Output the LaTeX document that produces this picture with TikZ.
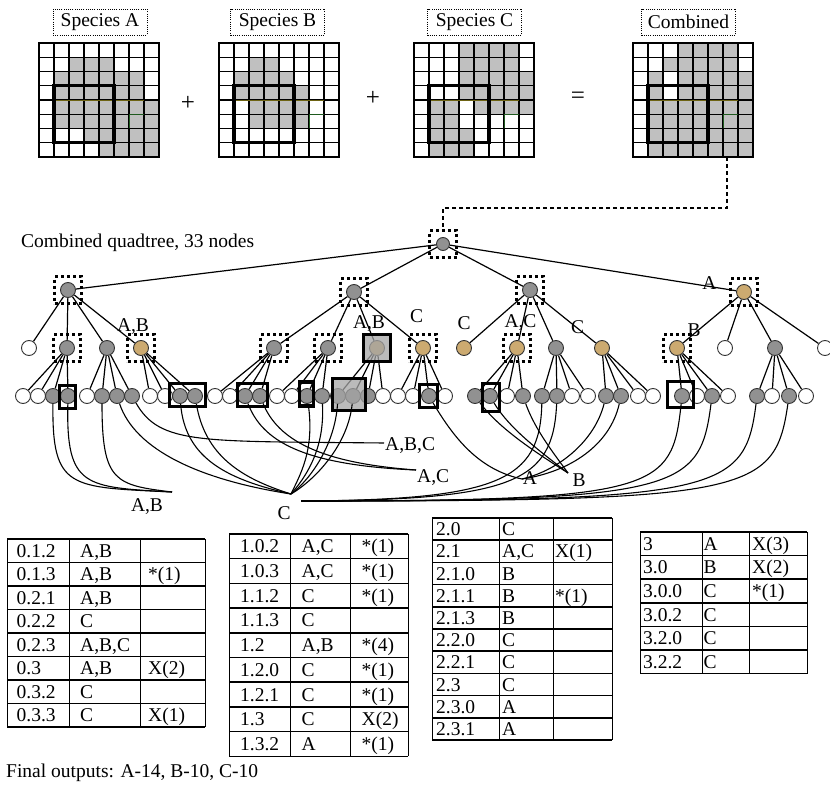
\documentclass[tikz,border=0pt]{standalone}
\usepackage{fontspec}
\setmainfont{Liberation Serif}
\usetikzlibrary{backgrounds}
\definecolor{cellgray}{RGB}{192,192,192}
\definecolor{clrw}{RGB}{255,255,255}
\definecolor{clrg}{RGB}{145,145,145}
\definecolor{clrt}{RGB}{204,170,112}
\definecolor{boxgray}{RGB}{165,165,165}
\definecolor{gridolive}{RGB}{110,100,20}
\definecolor{gridgreen}{RGB}{30,90,30}

% 8x8 occupancy grid: #1 = top-left corner, #2 = row/{gray columns}
\newcommand{\speciesgrid}[2]{%
  \begin{scope}[shift={#1}, x=15pt, y=-14.25pt]
    \foreach \r/\cs in {#2} {\foreach \c in \cs {\fill[cellgray] (\c,\r) rectangle ++(1,1);}}
    \foreach \k in {0,...,8} {\draw[gridln] (\k,0) -- (\k,8); \draw[gridln] (0,\k) -- (8,\k);}
    \draw[gridolive, line width=0.8pt] (1,4) -- (7,4);
    \draw[gridgreen, line width=0.8pt] (6,6) -- (6,5) -- (7,5);
    \draw[line width=3.2pt] (1,3) rectangle (5,7);
  \end{scope}}

\begin{document}
\begin{tikzpicture}[x=1pt, y=-1pt,
  fs/.style={font=\fontsize{19.5}{22}\selectfont},
  lbl/.style={fs, inner sep=0pt},
  bigsym/.style={font=\fontsize{25}{27}\selectfont, inner sep=0pt},
  ttl/.style={fs, draw, line width=0.8pt, dash pattern=on 1pt off 1.2pt,
    minimum width=94pt, minimum height=26pt, inner sep=1pt},
  gridln/.style={line width=1.3pt, line cap=rect},
  edge/.style={line width=1.2pt},
  curve/.style={line width=1.1pt},
  nd/.style={circle, draw=black!80, line width=0.9pt, minimum size=15pt, inner sep=0pt},
  dotbox/.style={draw, line width=3.2pt, dash pattern=on 3pt off 3pt,
    minimum size=27pt, inner sep=0pt},
  thickbox/.style={draw, line width=3.2pt, inner sep=0pt},
  dashconn/.style={line width=1.1pt, dash pattern=on 4pt off 3pt},
  tabh/.style={line width=1.5pt},
  tabv/.style={line width=1pt},
  cell/.style={fs, inner sep=0pt, anchor=base west},
]
\begin{pgfonlayer}{background}
  \fill[white] (0,0) rectangle (830,789);
\end{pgfonlayer}
\useasboundingbox (0,0) rectangle (830,789);

% ---------- species grids ----------
\node[ttl] (sa) at (100,22) {Species A};
\node[ttl] (sb) at (277.5,22) {Species B};
\node[ttl] (sc) at (474.5,22) {Species C};
\node[ttl] (sd) at (688.5,22) {Combined};

\speciesgrid{(39,43)}{1/{2,3,4}, 2/{1,2,3,4,5,6}, 3/{1,2,3,4,5,6}, 4/{1,2,3,4,5,6,7},
  5/{1,2,3,4,5,6,7}, 6/{3,4,5,6,7}, 7/{4,5,6,7}}
\speciesgrid{(219,43)}{1/{2,3}, 2/{1,2,3,4}, 3/{1,2,3,4,5}, 4/{2,3,4,5}, 5/{2,3,4,5}}
\speciesgrid{(414,43)}{0/{3,4,5,6}, 1/{3,4,5,6}, 2/{3,4,5,6,7}, 3/{3,4,5,6,7},
  4/{1,2,4,5,6,7}, 5/{1,2}, 6/{1,2,3}, 7/{1,2,3}}
\speciesgrid{(633,43)}{0/{3,4,5,6}, 1/{2,3,4,5,6}, 2/{1,3,4,5,6,7}, 3/{1,3,4,5,6,7},
  4/{1,2,3,4,5,6,7}, 5/{1,2,3,4,5,6,7}, 6/{1,2,3,4,5,6,7}, 7/{1,2,3,4,5,6,7}}

\node[bigsym] (plus1) at (188,103) {+};
\node[bigsym] (plus2) at (373,98) {+};
\node[bigsym] (eq) at (578,98) {=};

% ---------- quadtree ----------
\node[lbl, anchor=base west] (qt) at (21,247) {Combined quadtree, 33 nodes};

\node[nd, fill=clrg, minimum size=13pt] (root) at (443,244) {};
\foreach \nm/\x/\y/\cl in {n0/68/290/clrg, n1/354/292/clrg, n2/530/290/clrg, n3/744/292/clrt}
  \node[nd, fill=\cl] (\nm) at (\x,\y) {};
\foreach \nm/\x/\cl in {n00/29/clrw, n01/67/clrg, n02/107/clrg, n03/141/clrt,
  n10/274/clrg, n11/328/clrg, n12/377/clrt, n13/423/clrt,
  n20/464/clrt, n21/517/clrt, n22/556/clrg, n23/602/clrt,
  n30/677/clrt, n31/725/clrw, n32/775/clrg, n33/825/clrw}
  \node[nd, fill=\cl] (\nm) at (\x,348) {};
\foreach \nm/\x/\cl in {n010/23/clrw, n011/38/clrw, n012/53/clrg, n013/68/clrg,
  n020/87/clrw, n021/102/clrg, n022/117/clrg, n023/132/clrg,
  n030/150/clrw, n031/165/clrw, n032/180/clrg, n033/195/clrg,
  n100/215/clrw, n101/230/clrw, n102/245/clrg, n103/260/clrg,
  n110/277/clrw, n111/292/clrw, n112/307/clrg, n113/322/clrg,
  n120/338/clrg, n121/353/clrg, n122/368/clrg, n123/383/clrw,
  n130/398/clrw, n131/413/clrw, n132/429/clrg, n133/445/clrw,
  n210/475/clrg, n211/490/clrg, n212/507/clrw, n213/523/clrg,
  n220/542/clrg, n221/557/clrg, n222/572/clrw, n223/588/clrw,
  n230/606/clrg, n231/621/clrg, n232/638/clrw, n233/653/clrw,
  n300/682/clrg, n301/697/clrw, n302/712/clrg, n303/728/clrw,
  n320/757/clrg, n321/772/clrw, n322/789/clrg, n323/806/clrw}
  \node[nd, fill=\cl] (\nm) at (\x,396) {};

\begin{pgfonlayer}{background}
  \foreach \k in {0,...,3} \draw[edge] (root) -- (n\k);
  \foreach \p in {n0,n1,n2,n3,n01,n02,n03,n10,n11,n12,n13,n21,n22,n23,n30,n32}
    \foreach \k in {0,...,3} \draw[edge] (\p) -- (\p\k);
\end{pgfonlayer}

% dotted frames
\foreach \nm in {root,n0,n1,n2,n3,n01,n03,n10,n11,n13,n21,n30}
  \node[dotbox] (d\nm) at (\nm) {};

% solid frames
\node[thickbox, fill=boxgray, fill opacity=0.75, minimum width=27pt, minimum height=27pt] (k12) at (377,348) {};
\node[thickbox, minimum width=16pt, minimum height=23pt] (k013) at (67.5,397) {};
\node[thickbox, minimum width=36pt, minimum height=23pt] (k03) at (187.5,395) {};
\node[thickbox, minimum width=30pt, minimum height=23pt] (k10) at (252.5,395) {};
\node[thickbox, minimum width=14pt, minimum height=24pt] (k112) at (306.5,394) {};
\node[thickbox, fill=boxgray, fill opacity=0.75, minimum width=33pt, minimum height=32pt] (k120) at (349,394.5) {};
\node[thickbox, minimum width=18pt, minimum height=23pt] (k132) at (428.5,396) {};
\node[thickbox, minimum width=17pt, minimum height=28pt] (k211) at (491,397.5) {};
\node[thickbox, minimum width=26pt, minimum height=26pt] (k300) at (680.5,394.5) {};

% link from the combined grid to the root
\coordinate (cb) at (727,157);
\coordinate (bend) at (727,208);
\draw[dashconn] (cb) -- (bend) -| (droot);

% branch labels
\node[lbl] (la3) at (709.5,283) {A};
\node[lbl] (lb30) at (694,330) {B};
\node[lbl] (lab03) at (133,327) {A,B};
\node[lbl] (lab12) at (369,323.5) {A,B};
\node[lbl] (lc13) at (416.5,316.5) {C};
\node[lbl] (lc20) at (464,323) {C};
\node[lbl] (lac21) at (520.5,323) {A,C};
\node[lbl] (lc23) at (577.5,327) {C};

% ---------- leaf links ----------
\coordinate (pAB) at (172,492);
\coordinate (pC) at (291,494);
\coordinate (pCr) at (301,501);
\coordinate (pABC) at (384,443);
\coordinate (pAC) at (416,470);
\coordinate (pA) at (522,479);
\coordinate (pB) at (568,473);

\draw[curve] (n012) .. controls (52,490) and (70,487) .. (pAB);
\draw[curve] (n013) .. controls (66,488) and (85,487) .. (pAB);
\draw[curve] (n021) .. controls (102,482) and (115,485) .. (pAB);

\draw[curve] (n022) .. controls (135,450) and (200,480) .. (pC);
\draw[curve] (n032) .. controls (185,460) and (230,480) .. (pC);
\draw[curve] (n033) .. controls (205,455) and (240,478) .. (pC);
\draw[curve] (n112) .. controls (315,450) and (300,475) .. (pC);
\draw[curve] (n113) .. controls (325,450) and (305,478) .. (pC);
\draw[curve] (n120) .. controls (335,445) and (310,480) .. (pC);
\draw[curve] (n121) .. controls (348,445) and (315,480) .. (pC);

\draw[curve] (n220) .. controls (540,480) and (500,500) .. (pCr);
\draw[curve] (n221) .. controls (553,482) and (515,500) .. (pCr);
\draw[curve] (n300) .. controls (672,490) and (660,501) .. (pCr);
\draw[curve] (n302) .. controls (700,490) and (680,501) .. (pCr);
\draw[curve] (n320) .. controls (745,492) and (720,501) .. (pCr);
\draw[curve] (n322) .. controls (775,494) and (750,501) .. (pCr);

\draw[curve] (n023) .. controls (160,445) and (200,441) .. (pABC);
\draw[curve] (n102) .. controls (262,440) and (300,465) .. (pAC);
\draw[curve] (n103) .. controls (278,440) and (320,463) .. (pAC);

\draw[curve] (n132) .. controls (455,440) and (480,470) .. (pA);
\draw[curve] (n230) .. controls (595,440) and (560,470) .. (pA);
\draw[curve] (n231) .. controls (610,445) and (570,472) .. (pA);

\draw[curve] (n210) .. controls (500,430) and (540,455) .. (pB);
\draw[curve] (n211) .. controls (510,430) and (545,455) .. (pB);
\draw[curve] (n213) .. controls (535,430) and (555,455) .. (pB);

\node[lbl] (tAB) at (147,507) {A,B};
\node[lbl] (tC) at (284,513) {C};
\node[lbl, anchor=west] (tABC) at (385,446) {A,B,C};
\node[lbl, anchor=west] (tAC) at (417,478) {A,C};
\node[lbl] (tA) at (530,478) {A};
\node[lbl] (tB) at (579,480) {B};

% ---------- tables ----------
% table 0
\foreach \k in {0,...,8} \draw[tabh] (7,539+23.5*\k) -- (205,539+23.5*\k);
\foreach \xx in {7,69,140,205} \draw[tabv] (\xx,539) -- (\xx,727);
\foreach \a/\b/\c [count=\i from 0] in {0.1.2/{A,B}/{}, 0.1.3/{A,B}/*(1), 0.2.1/{A,B}/{},
  0.2.2/C/{}, 0.2.3/{A,B,C}/{}, 0.3/{A,B}/X(2), 0.3.2/C/{}, 0.3.3/C/X(1)} {
  \node[cell] (t0a\i) at (16.5,539+23.5*\i+18.2) {\a};
  \node[cell] (t0b\i) at (80,539+23.5*\i+18.2) {\b};
  \node[cell] (t0c\i) at (148,539+23.5*\i+18.2) {\c};
}
% table 1
\foreach \k in {0,...,9} \draw[tabh] (229,534+24.7*\k) -- (408,534+24.7*\k);
\foreach \xx in {229,290,350,408} \draw[tabv] (\xx,534) -- (\xx,756.3);
\foreach \a/\b/\c [count=\i from 0] in {1.0.2/{A,C}/*(1), 1.0.3/{A,C}/*(1), 1.1.2/C/*(1),
  1.1.3/C/{}, 1.2/{A,B}/*(4), 1.2.0/C/*(1), 1.2.1/C/*(1), 1.3/C/X(2), 1.3.2/A/*(1)} {
  \node[cell] (t1a\i) at (240,534+24.7*\i+18.8) {\a};
  \node[cell] (t1b\i) at (301.5,534+24.7*\i+18.8) {\b};
  \node[cell] (t1c\i) at (361.5,534+24.7*\i+18.8) {\c};
}
% table 2
\foreach \k in {0,...,10} \draw[tabh] (432,518+22.2*\k) -- (612,518+22.2*\k);
\foreach \xx in {432,499,553,612} \draw[tabv] (\xx,518) -- (\xx,740);
\foreach \a/\b/\c [count=\i from 0] in {2.0/C/{}, 2.1/{A,C}/X(1), 2.1.0/B/{}, 2.1.1/B/*(1),
  2.1.3/B/{}, 2.2.0/C/{}, 2.2.1/C/{}, 2.3/C/{}, 2.3.0/A/{}, 2.3.1/A/{}} {
  \node[cell] (t2a\i) at (436,518+22.2*\i+17.6) {\a};
  \node[cell] (t2b\i) at (502,518+22.2*\i+17.6) {\b};
  \node[cell] (t2c\i) at (555,518+22.2*\i+17.6) {\c};
}
% table 3
\foreach \k in {0,...,6} \draw[tabh] (640,532+23.6*\k) -- (807,532+23.6*\k);
\foreach \xx in {640,702,749,807} \draw[tabv] (\xx,532) -- (\xx,673.6);
\foreach \a/\b/\c [count=\i from 0] in {3/A/X(3), 3.0/B/X(2), 3.0.0/C/*(1),
  3.0.2/C/{}, 3.2.0/C/{}, 3.2.2/C/{}} {
  \node[cell] (t3a\i) at (643,532+23.6*\i+18.3) {\a};
  \node[cell] (t3b\i) at (703.5,532+23.6*\i+18.3) {\b};
  \node[cell] (t3c\i) at (752,532+23.6*\i+18.3) {\c};
}

\node[lbl, anchor=base west] (fin) at (6,777) {Final outputs: A-14, B-10, C-10};
\end{tikzpicture}
\end{document}
